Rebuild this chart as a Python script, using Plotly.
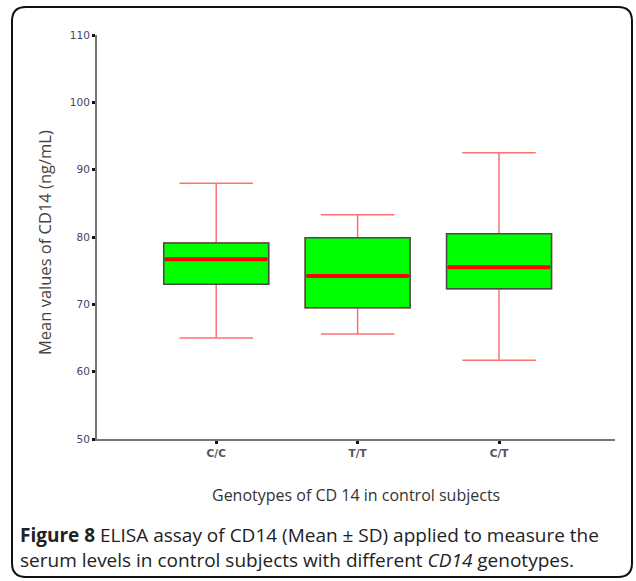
import plotly.graph_objects as go

# ---- data ----
genotypes = ["C/C", "T/T", "C/T"]
lower_whisker = [65.0, 65.6, 61.7]
q1_values = [73.0, 69.5, 72.3]
median_values = [76.7, 74.2, 75.5]
q3_values = [79.1, 79.9, 80.5]
upper_whisker = [88.0, 83.3, 92.5]
y_ticks = [50, 60, 70, 80, 90, 100, 110]

W, H = 636, 581
ML, MR, MT, MB = 97, 21, 35, 142
PW, PH = W - ML - MR, H - MT - MB
box_w = 0.742
xs = list(range(len(genotypes)))

fig = go.Figure()

# whiskers (light red)
fig.add_trace(go.Box(
    x=xs, q1=q1_values, median=median_values, q3=q3_values,
    lowerfence=lower_whisker, upperfence=upper_whisker,
    width=box_w, whiskerwidth=0.7,
    line=dict(color="#ff7070", width=1.5), fillcolor="#00ff00",
    boxpoints=False, showlegend=False, hoverinfo="skip"))

# boxes (lime fill, dark outline)
fig.add_trace(go.Box(
    x=xs, q1=q1_values, median=median_values, q3=q3_values,
    lowerfence=q1_values, upperfence=q3_values,
    width=box_w, whiskerwidth=0,
    line=dict(color="#4a4a4a", width=1.5), fillcolor="#00ff00",
    boxpoints=False, showlegend=False, hoverinfo="skip"))

# red median bars
mx, my = [], []
for i, m in zip(xs, median_values):
    mx += [i - box_w / 2 + 0.01, i + box_w / 2 - 0.01, None]
    my += [m, m, None]
fig.add_trace(go.Scatter(x=mx, y=my, mode="lines",
                         line=dict(color="#ff0000", width=4),
                         showlegend=False, hoverinfo="skip"))

# outer rounded frame (paper coords)
x0, x1 = (12 - ML) / PW, (632 - ML) / PW
y0, y1 = (H - MB - 577) / PH, (H - MB - 7) / PH
rx, ry = 14 / PW, 14 / PH
path = (f"M {x0+rx},{y1} L {x1-rx},{y1} Q {x1},{y1} {x1},{y1-ry} "
        f"L {x1},{y0+ry} Q {x1},{y0} {x1-rx},{y0} "
        f"L {x0+rx},{y0} Q {x0},{y0} {x0},{y0+ry} "
        f"L {x0},{y1-ry} Q {x0},{y1} {x0+rx},{y1} Z")
fig.add_shape(type="path", path=path, xref="paper", yref="paper",
              line=dict(color="#111111", width=2), layer="below")

def px_x(p):
    return (p - ML) / PW

def px_y(p):
    return (H - MB - p) / PH

fig.add_annotation(text="Mean values of CD14 (ng/mL)", textangle=-90,
                   x=px_x(44), y=px_y(243), xref="paper", yref="paper",
                   xanchor="center", yanchor="middle", showarrow=False,
                   font=dict(family="Open Sans", size=16.5, color="#444444"))
fig.add_annotation(text="Genotypes of CD 14 in control subjects",
                   x=px_x(356), y=px_y(495), xref="paper", yref="paper",
                   xanchor="center", yanchor="middle", showarrow=False,
                   font=dict(family="Open Sans", size=16, color="#333333"))
fig.add_annotation(text=("<b>Figure 8</b> ELISA assay of CD14 (Mean ± SD) applied to measure the"
                         "<br>serum levels in control subjects with different <i>CD14</i> genotypes."),
                   x=px_x(18), y=px_y(547), xref="paper", yref="paper",
                   xanchor="left", yanchor="middle", align="left", showarrow=False,
                   font=dict(family="Open Sans", size=19, color="#222222"))

fig.update_layout(
    width=W, height=H,
    margin=dict(l=ML, r=MR, t=MT, b=MB),
    paper_bgcolor="white", plot_bgcolor="white",
    boxmode="overlay",
    xaxis=dict(range=[-0.843, 2.82], tickvals=xs,
               ticktext=["<b>" + g + "</b>" for g in genotypes],
               showgrid=False, zeroline=False, showline=True,
               linecolor="#777777", linewidth=2,
               ticks="outside", ticklen=3, tickwidth=3, tickcolor="#111111",
               tickfont=dict(family="DejaVu Sans", size=10.5, color="#555555")),
    yaxis=dict(range=[50, 110], tickvals=y_ticks,
               showgrid=False, zeroline=False, showline=True,
               linecolor="#777777", linewidth=2,
               ticks="outside", ticklen=3, tickwidth=3, tickcolor="#111111",
               tickfont=dict(family="DejaVu Sans", size=10.5, color="#444466")),
)

fig.write_html("out.html")
